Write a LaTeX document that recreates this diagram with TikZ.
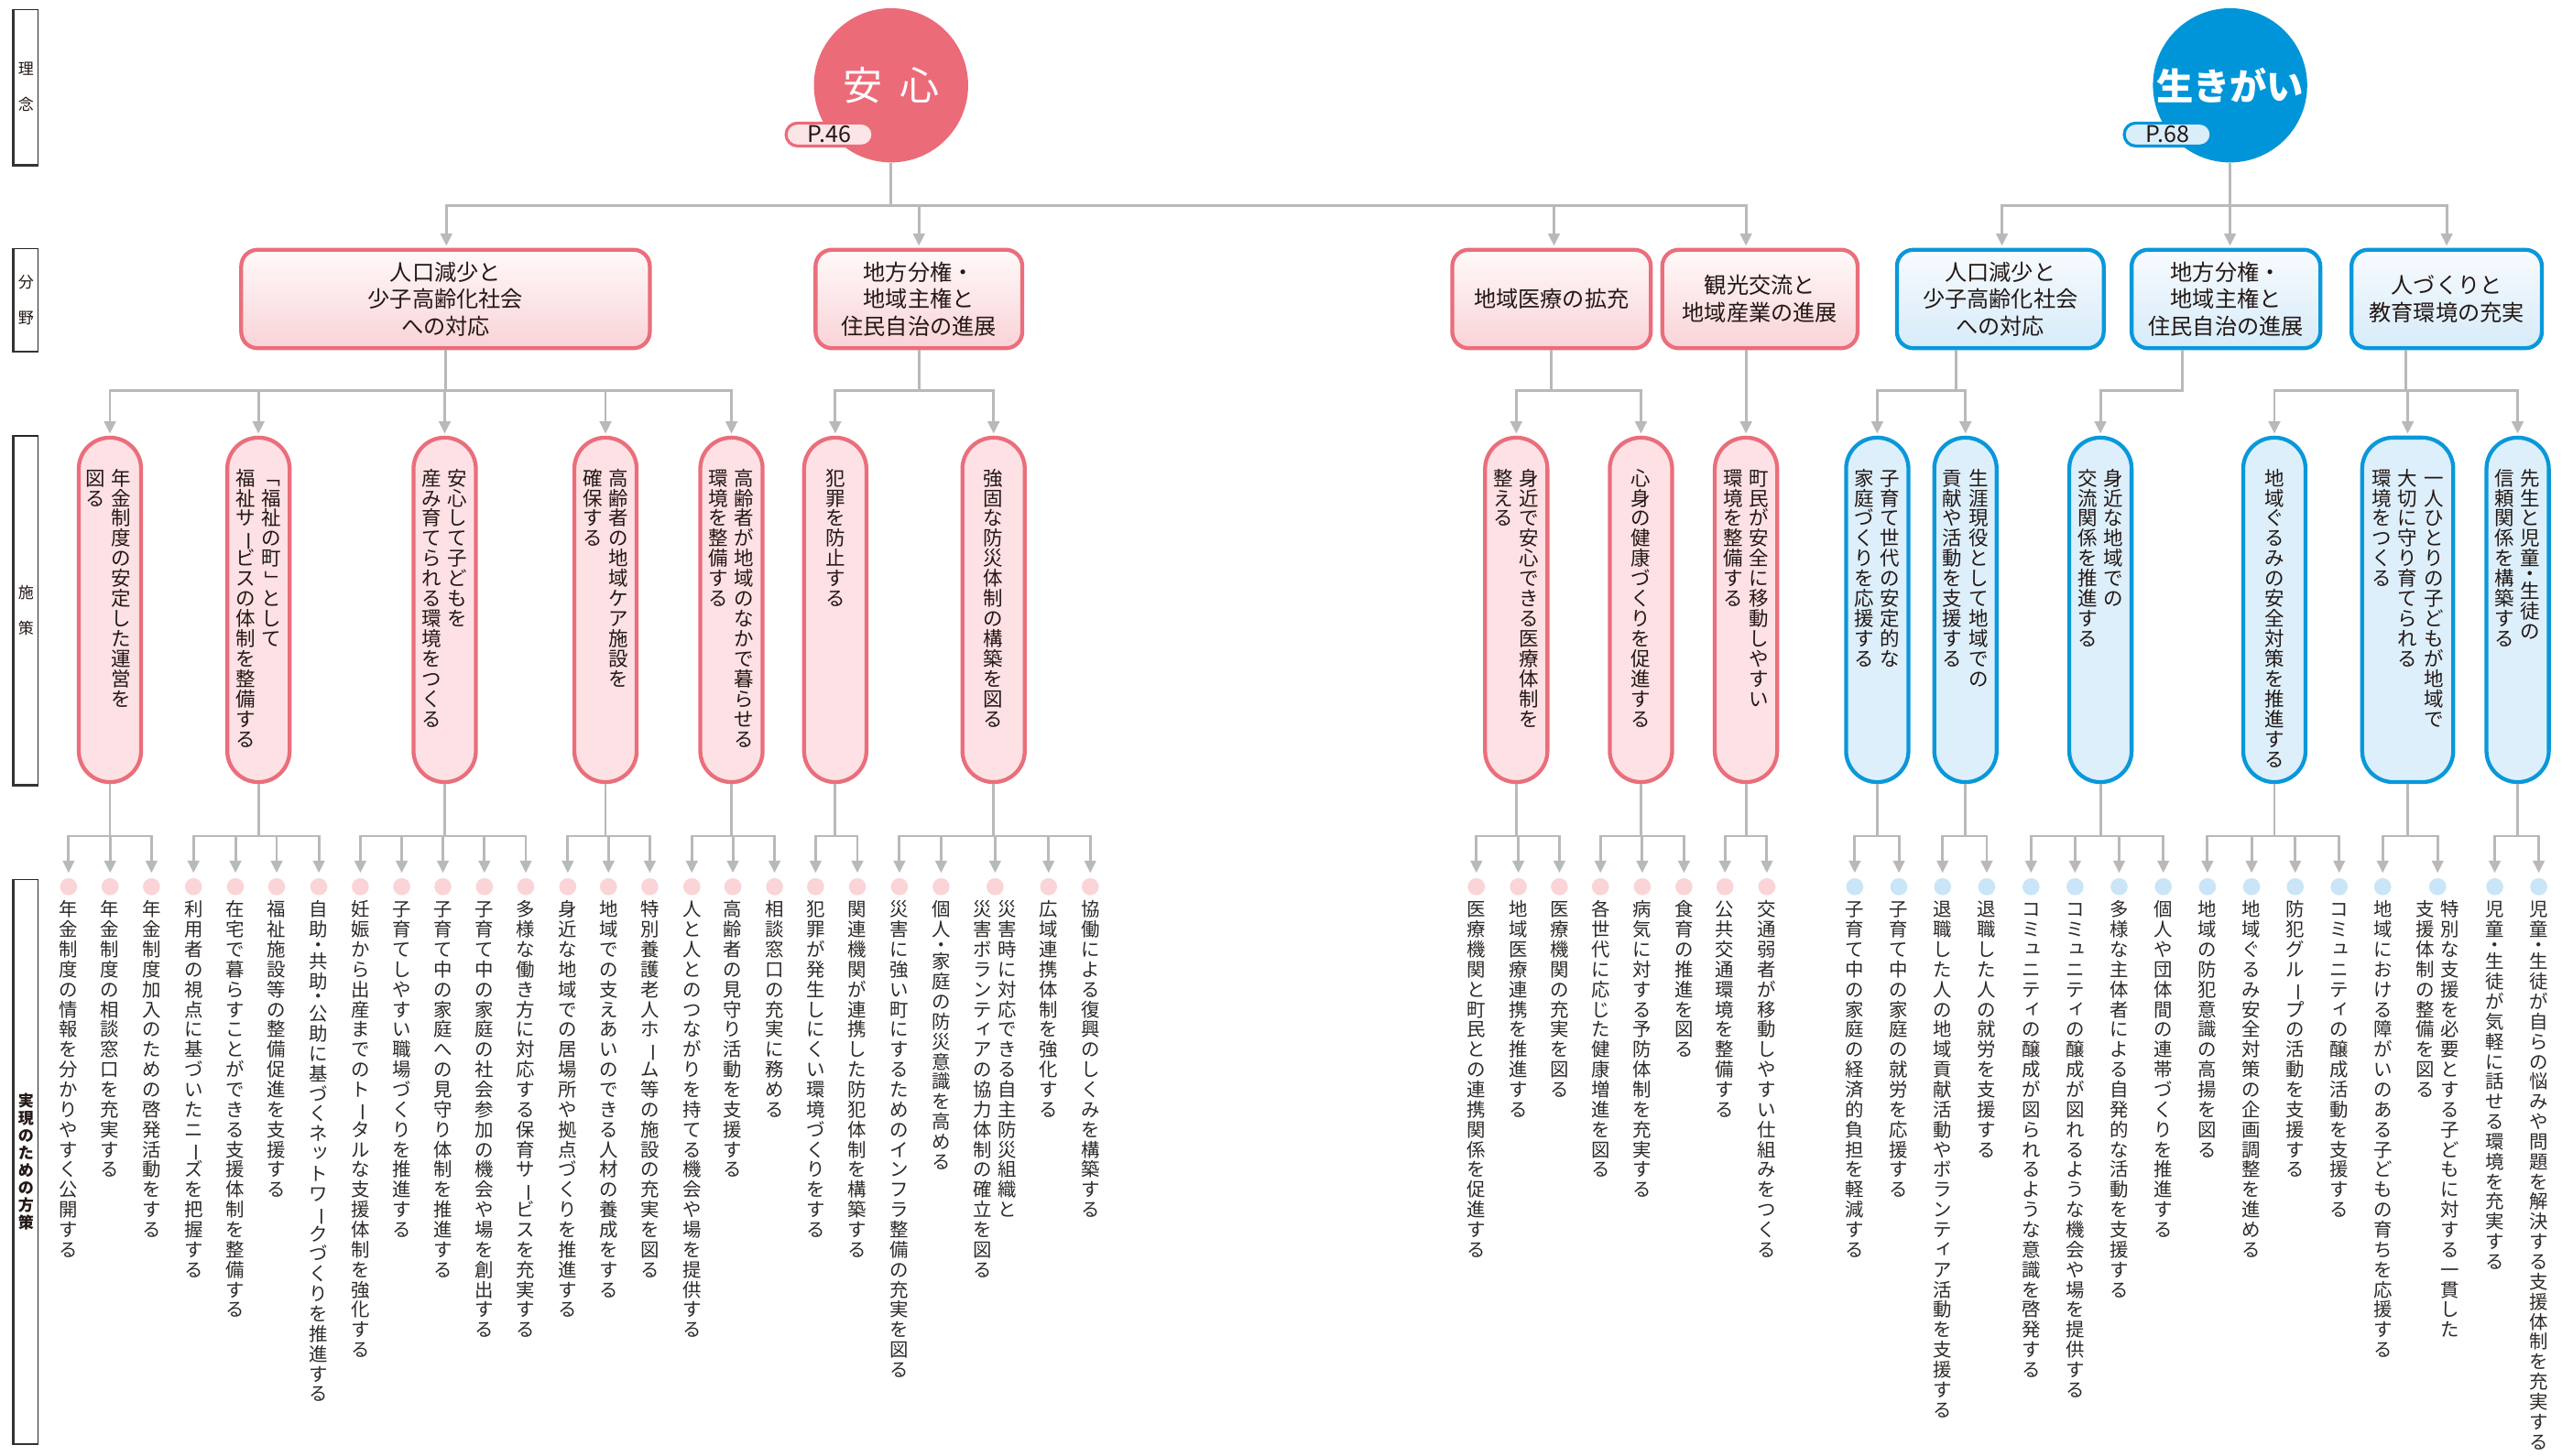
\documentclass[tikz,border=0pt]{standalone}
\usepackage{fontspec}
\setmainfont{Noto Sans CJK JP}
\usepackage{graphicx}
\usetikzlibrary{arrows.meta}
\definecolor{pinkM}{HTML}{EC6B79}
\definecolor{pinkB}{HTML}{EA6E7B}
\definecolor{pinkF}{HTML}{FDE1E4}
\definecolor{pinkT}{HTML}{FFF9F9}
\definecolor{pinkG}{HTML}{F9D3D7}
\definecolor{pinkD}{HTML}{FAD4D7}
\definecolor{pinkP}{HTML}{FCE5E7}
\definecolor{blueM}{HTML}{0095D9}
\definecolor{blueB}{HTML}{0998DA}
\definecolor{blueF}{HTML}{DDEFFB}
\definecolor{blueT}{HTML}{F8FBFE}
\definecolor{blueG}{HTML}{D6EBF9}
\definecolor{blueD}{HTML}{C9E5F7}
\definecolor{blueP}{HTML}{DAEEFA}
\definecolor{cgray}{HTML}{B9B9B9}
\definecolor{ink}{HTML}{231815}
\definecolor{inkL}{HTML}{2E2A28}
% ---------- vertical text ----------
\newlength\vpitch
\setlength\vpitch{12.2pt}
\newlength\vcg
\setlength\vcg{3.8pt}
\newcommand\vcell[1]{\hbox to 1em{\vrule height\vpitch depth0pt width0pt\hss\raisebox{\dimexpr0.5\vpitch-0.38em\relax}{\smash{#1}}\hss}}
\newcommand\vhalf[1]{\hbox to 1em{\vrule height0.5\vpitch depth0pt width0pt\hss\raisebox{\dimexpr0.25\vpitch-0.38em\relax}{\smash{#1}}\hss}}
\newcommand\vsmall[1]{\hbox to 1em{\vrule height\vpitch depth0pt width0pt\hss\kern0.2em\raisebox{\dimexpr0.5\vpitch-0.38em+0.14em\relax}{\smash{#1}}\hss}}
\newcommand\vrotc[1]{\vcell{\rotatebox[origin=c]{-90}{#1}}}
\newcommand\vchar[1]{\ifcsname vc@#1\endcsname\csname vc@#1\endcsname\else\vcell{#1}\fi}
\def\vtloop#1{\ifx\relax#1\else\vchar{#1}\expandafter\vtloop\fi}
\newcommand\vcol[1]{\vtop{\offinterlineskip\vtloop#1\relax}}
\newcommand\vtwo[2]{\vcol{#2}\kern\vcg\vcol{#1}}
\newcommand\vthree[3]{\vcol{#3}\kern\vcg\vcol{#2}\kern\vcg\vcol{#1}}
\expandafter\def\csname vc@ー\endcsname{\vrotc{ー}}
\expandafter\def\csname vc@「\endcsname{\vrotc{「}}
\expandafter\def\csname vc@」\endcsname{\vrotc{」}}
\expandafter\def\csname vc@・\endcsname{\vhalf{・}}
\expandafter\def\csname vc@ッ\endcsname{\vsmall{ッ}}
\expandafter\def\csname vc@ィ\endcsname{\vsmall{ィ}}
\expandafter\def\csname vc@ュ\endcsname{\vsmall{ュ}}
\expandafter\def\csname vc@っ\endcsname{\vsmall{っ}}
\tikzset{
 conn/.style={draw=cgray, line width=1.6pt},
 arr/.style={conn, -{Triangle[width=7pt,length=7.5pt]}, shorten >=1.2pt},
 catbox/.style={rectangle, rounded corners=10pt, line width=2.4pt, align=center, text=ink, font=\fontsize{13.5}{16.5}\selectfont, minimum height=60pt, inner sep=0pt},
 catP/.style={catbox, draw=pinkB, top color=pinkT, bottom color=pinkG},
 catB/.style={catbox, draw=blueB, top color=blueT, bottom color=blueG},
 polbox/.style={rectangle, rounded corners=19pt, line width=2.4pt, minimum width=38pt, minimum height=210pt, inner sep=0pt},
 polP/.style={polbox, draw=pinkB, fill=pinkF},
 polB/.style={polbox, draw=blueB, fill=blueF},
 poltxt/.style={anchor=north, inner sep=0pt, text=ink, font=\fontsize{12}{12}\selectfont\setlength\vpitch{12.25pt}},
 dotP/.style={circle, fill=pinkD, minimum size=10.4pt, inner sep=0pt},
 dotB/.style={circle, fill=blueD, minimum size=10.4pt, inner sep=0pt},
 itxt/.style={anchor=north, inner sep=0pt, text=inkL, font=\fontsize{11.4}{12}\selectfont\setlength\vpitch{12.2pt}\setlength\vcg{3.6pt}},
 lblbox/.style={rectangle, draw=black!85, line width=0.6pt, minimum width=15pt, inner sep=0pt, align=center, text=ink},
 lblshadow/.style={draw=black!80, line width=1.5pt},
 pill/.style={rectangle, rounded corners=7pt, line width=1.8pt, minimum width=53pt, minimum height=14pt, inner sep=0pt, text=ink, font=\fontsize{14}{14}\selectfont},
 theme/.style={circle, minimum size=94pt, inner sep=0pt, text=white, font=\fontsize{24}{24}\selectfont},
}
\newcommand\itm[5]{%
  \node[#4] (#1) at (#2,540.5) {};
  \node[itxt] (#1t) at (#2,548) {\vcol{#5}};
  \draw[arr, shorten >=3pt] (#3.south) -- ++(0,31.7) -| (#1.north);
}
\newcommand\itmm[6]{%
  \node[#4] (#1) at (#2,540.5) {};
  \node[itxt] (#1t) at (#2,548) {\vtwo{#5}{#6}};
  \draw[arr, shorten >=3pt] (#3.south) -- ++(0,31.7) -| (#1.north);
}
\begin{document}
\begin{tikzpicture}[x=1pt,y=-1pt]
\fill[white] (0,0) rectangle (1568,887);
\useasboundingbox (0,0) rectangle (1568,887);
% ---------- left labels ----------
\node[lblbox, minimum height=94.5pt, font=\fontsize{9.5}{21.8}\selectfont] (lb1) at (15.8,53.1) {理\\念};
\node[lblbox, minimum height=62.6pt, font=\fontsize{9.5}{21.5}\selectfont] (lb2) at (15.8,182.8) {分\\野};
\node[lblbox, minimum height=212.6pt, font=\fontsize{9.5}{21.4}\selectfont] (lb3) at (15.8,372) {施\\策};
\node[lblbox, minimum height=344pt, font=\fontsize{9.5}{10}\selectfont\bfseries\setlength\vpitch{10.6pt}] (lb4) at (15.8,708) {\vcol{実現のための方策}};
\foreach \l in {lb1,lb2,lb3,lb4}{\draw[lblshadow] (\l.north west) -- (\l.south west) -- (\l.south east);}
% ---------- themes ----------
\node[theme, fill=pinkM] (anshin) at (543,52) {安\hspace{0.45em}心};
\node[pill, draw=pinkM, fill=pinkP] (p46) at (505.5,82) {P.46};
\node[theme, fill=blueM, font=\fontsize{22.5}{22.5}\selectfont\bfseries] (ikigai) at (1359,52) {生きがい};
\node[pill, draw=blueM, fill=blueP] (p68) at (1321,82) {P.68};
% ---------- categories ----------
\node[catP, minimum width=249pt] (c1) at (271.5,182.25) {人口減少と\\少子高齢化社会\\への対応};
\node[catP, minimum width=126pt] (c2) at (560,182.25) {地方分権・\\地域主権と\\住民自治の進展};
\node[catP, minimum width=121pt] (c3) at (945.5,182.25) {地域医療の拡充};
\node[catP, minimum width=119pt] (c4) at (1072.5,182.25) {観光交流と\\地域産業の進展};
\node[catB, minimum width=126pt] (c5) at (1219,182.25) {人口減少と\\少子高齢化社会\\への対応};
\node[catB, minimum width=115pt] (c6) at (1356.5,182.25) {地方分権・\\地域主権と\\住民自治の進展};
\node[catB, minimum width=116pt] (c7) at (1491,182.25) {人づくりと\\教育環境の充実};
\draw[arr] (anshin.south) -- ++(0,26) -| ([xshift=0.5pt]c1.north);
\draw[arr] (anshin.south) -- ++(0,26) -| (c2.north);
\draw[arr] (anshin.south) -- ++(0,26) -| ([xshift=1.5pt]c3.north);
\draw[arr] (anshin.south) -- ++(0,26) -| ([xshift=-8.5pt]c4.north);
\draw[arr] (ikigai.south) -- ++(0,26) -| ([xshift=1pt]c5.north);
\draw[arr] (ikigai.south) -- ++(0,26) -| ([xshift=2.5pt]c6.north);
\draw[arr] (ikigai.south) -- ++(0,26) -| (c7.north);
% ---------- policies ----------
\node[polP] (pa) at (67,371.75) {};
\node[polP] (pb) at (157.5,371.75) {};
\node[polP] (pc) at (271,371.75) {};
\node[polP] (pd) at (369,371.75) {};
\node[polP] (pe) at (445.75,371.75) {};
\node[polP] (pf) at (509,371.75) {};
\node[polP] (pg) at (605.5,371.75) {};
\node[polP] (ph) at (924,371.75) {};
\node[polP] (pi) at (1000,371.75) {};
\node[polP] (pj) at (1064,371.75) {};
\node[polB] (pk) at (1144,371.75) {};
\node[polB] (pl) at (1197.75,371.75) {};
\node[polB] (pm) at (1280,371.75) {};
\node[polB] (pn) at (1386,371.75) {};
\node[polB, minimum width=55.5pt] (po) at (1467.25,371.75) {};
\node[polB] (pp) at (1534.25,371.75) {};
\node[poltxt] (pat) at (66,285) {\vtwo{年金制度の安定した運営を}{図る}};
\node[poltxt] (pbt) at (157.5,285) {\vtwo{「福祉の町」として}{福祉サービスの体制を整備する}};
\node[poltxt] (pct) at (271,285) {\vtwo{安心して子どもを}{産み育てられる環境をつくる}};
\node[poltxt] (pdt) at (369,285) {\vtwo{高齢者の地域ケア施設を}{確保する}};
\node[poltxt] (pet) at (445.75,285) {\vtwo{高齢者が地域のなかで暮らせる}{環境を整備する}};
\node[poltxt] (pft) at (509,285) {\vcol{犯罪を防止する}};
\node[poltxt] (pgt) at (605.5,285) {\vcol{強固な防災体制の構築を図る}};
\node[poltxt] (pht) at (924,285) {\vtwo{身近で安心できる医療体制を}{整える}};
\node[poltxt] (pit) at (1000,285) {\vcol{心身の健康づくりを促進する}};
\node[poltxt] (pjt) at (1064,285) {\vtwo{町民が安全に移動しやすい}{環境を整備する}};
\node[poltxt] (pkt) at (1144,285) {\vtwo{子育て世代の安定的な}{家庭づくりを応援する}};
\node[poltxt] (plt) at (1197.75,285) {\vtwo{生涯現役として地域での}{貢献や活動を支援する}};
\node[poltxt] (pmt) at (1280,285) {\vtwo{身近な地域での}{交流関係を推進する}};
\node[poltxt] (pnt) at (1386,285) {\vcol{地域ぐるみの安全対策を推進する}};
\node[poltxt] (pot) at (1467.25,285) {\vthree{一人ひとりの子どもが地域で}{大切に守り育てられる}{環境をつくる}};
\node[poltxt] (ppt) at (1534.25,285) {\vtwo{先生と児童・生徒の}{信頼関係を構築する}};
% category -> policy
\foreach \p in {pa,pb,pc,pd,pe}{\draw[arr] (c1.south) -- ++(0,24.7) -| (\p.north);}
\foreach \p in {pf,pg}{\draw[arr] (c2.south) -- ++(0,24.7) -| (\p.north);}
\foreach \p in {ph,pi}{\draw[arr] (c3.south) -- ++(0,24.7) -| (\p.north);}
\draw[arr] ([xshift=-8.5pt]c4.south) -- (pj.north);
\foreach \p in {pk,pl}{\draw[arr] ([xshift=-27pt]c5.south) -- ++(0,24.7) -| (\p.north);}
\draw[arr] ([xshift=-26.5pt]c6.south) -- ++(0,24.7) -| (pm.north);
\foreach \p in {pn,po,pp}{\draw[arr] ([xshift=-25pt]c7.south) -- ++(0,24.7) -| (\p.north);}
% ---------- items ----------
\itm{ia1}{41.8}{pa}{dotP}{年金制度の情報を分かりやすく公開する}
\itm{ia2}{67.1}{pa}{dotP}{年金制度の相談窓口を充実する}
\itm{ia3}{92.3}{pa}{dotP}{年金制度加入のための啓発活動をする}
\itm{ib1}{117.9}{pb}{dotP}{利用者の視点に基づいたニーズを把握する}
\itm{ib2}{143.5}{pb}{dotP}{在宅で暮らすことができる支援体制を整備する}
\itm{ib3}{168.6}{pb}{dotP}{福祉施設等の整備促進を支援する}
\itm{ib4}{194.3}{pb}{dotP}{自助・共助・公助に基づくネットワークづくりを推進する}
\itm{ic1}{219.6}{pc}{dotP}{妊娠から出産までのトータルな支援体制を強化する}
\itm{ic2}{244.8}{pc}{dotP}{子育てしやすい職場づくりを推進する}
\itm{ic3}{269.9}{pc}{dotP}{子育て中の家庭への見守り体制を推進する}
\itm{ic4}{295.2}{pc}{dotP}{子育て中の家庭の社会参加の機会や場を創出する}
\itm{ic5}{320.4}{pc}{dotP}{多様な働き方に対応する保育サービスを充実する}
\itm{id1}{346}{pd}{dotP}{身近な地域での居場所や拠点づくりを推進する}
\itm{id2}{370.8}{pd}{dotP}{地域での支えあいのできる人材の養成をする}
\itm{id3}{396}{pd}{dotP}{特別養護老人ホーム等の施設の充実を図る}
\itm{ie1}{421.6}{pe}{dotP}{人と人とのつながりを持てる機会や場を提供する}
\itm{ie2}{446.6}{pe}{dotP}{高齢者の見守り活動を支援する}
\itm{ie3}{472}{pe}{dotP}{相談窓口の充実に務める}
\itm{if1}{497}{pf}{dotP}{犯罪が発生しにくい環境づくりをする}
\itm{if2}{522.5}{pf}{dotP}{関連機関が連携した防犯体制を構築する}
\itm{ig1}{548.1}{pg}{dotP}{災害に強い町にするためのインフラ整備の充実を図る}
\itm{ig2}{573.5}{pg}{dotP}{個人・家庭の防災意識を高める}
\itmm{ig3}{606.4}{pg}{dotP}{災害時に対応できる自主防災組織と}{災害ボランティアの協力体制の確立を図る}
\itm{ig4}{639}{pg}{dotP}{広域連携体制を強化する}
\itm{ig5}{664.4}{pg}{dotP}{協働による復興のしくみを構築する}
\itm{ih1}{899.7}{ph}{dotP}{医療機関と町民との連携関係を促進する}
\itm{ih2}{925.3}{ph}{dotP}{地域医療連携を推進する}
\itm{ih3}{950.3}{ph}{dotP}{医療機関の充実を図る}
\itm{ii1}{975.3}{pi}{dotP}{各世代に応じた健康増進を図る}
\itm{ii2}{1000.8}{pi}{dotP}{病気に対する予防体制を充実する}
\itm{ii3}{1026.2}{pi}{dotP}{食育の推進を図る}
\itm{ij1}{1051.2}{pj}{dotP}{公共交通環境を整備する}
\itm{ij2}{1076.7}{pj}{dotP}{交通弱者が移動しやすい仕組みをつくる}
\itm{ik1}{1130.3}{pk}{dotB}{子育て中の家庭の経済的負担を軽減する}
\itm{ik2}{1157.2}{pk}{dotB}{子育て中の家庭の就労を応援する}
\itm{il1}{1183.8}{pl}{dotB}{退職した人の地域貢献活動やボランティア活動を支援する}
\itm{il2}{1210.7}{pl}{dotB}{退職した人の就労を支援する}
\itm{im1}{1237.7}{pm}{dotB}{コミュニティの醸成が図られるような意識を啓発する}
\itm{im2}{1264.5}{pm}{dotB}{コミュニティの醸成が図れるような機会や場を提供する}
\itm{im3}{1291.4}{pm}{dotB}{多様な主体者による自発的な活動を支援する}
\itm{im4}{1318.3}{pm}{dotB}{個人や団体間の連帯づくりを推進する}
\itm{in1}{1345.2}{pn}{dotB}{地域の防犯意識の高揚を図る}
\itm{in2}{1372.1}{pn}{dotB}{地域ぐるみ安全対策の企画調整を進める}
\itm{in3}{1398.7}{pn}{dotB}{防犯グループの活動を支援する}
\itm{in4}{1425.5}{pn}{dotB}{コミュニティの醸成活動を支援する}
\itm{io1}{1452}{po}{dotB}{地域における障がいのある子どもの育ちを応援する}
\itmm{io2}{1485.5}{po}{dotB}{特別な支援を必要とする子どもに対する一貫した}{支援体制の整備を図る}
\itm{ip1}{1520.3}{pp}{dotB}{児童・生徒が気軽に話せる環境を充実する}
\itm{ip2}{1547.1}{pp}{dotB}{児童・生徒が自らの悩みや問題を解決する支援体制を充実する}
\end{tikzpicture}
\end{document}
